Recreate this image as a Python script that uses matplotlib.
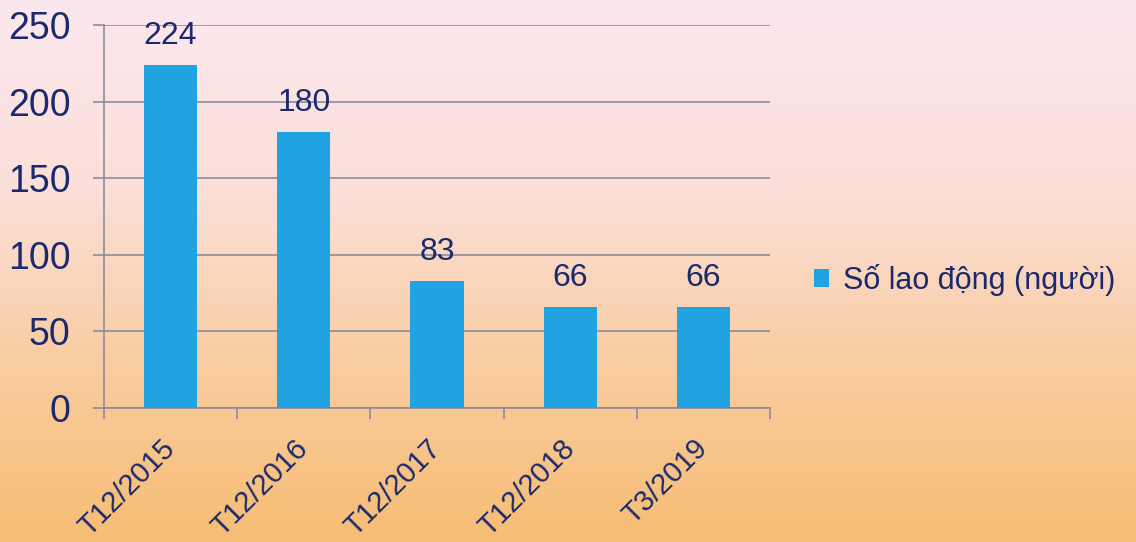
import numpy as np
import matplotlib
matplotlib.use("Agg")
from matplotlib import pyplot as plt
from matplotlib.colors import LinearSegmentedColormap
from matplotlib.patches import Patch

categories = ["T12/2015", "T12/2016", "T12/2017", "T12/2018", "T3/2019"]
values = [224, 180, 83, 66, 66]
series_name = "Số lao động (người)"
y_ticks = [0, 50, 100, 150, 200, 250]

TEXT_COLOR = "#1a2a6c"
BAR_COLOR = "#22a3e1"
GRID_COLOR = "#8c8c9c"

plt.rcParams["font.family"] = ["Liberation Sans", "DejaVu Sans"]

fig = plt.figure(figsize=(11.36, 5.42), dpi=100)

# background gradient (pink at top -> orange at bottom)
bg = fig.add_axes([0, 0, 1, 1], zorder=-10)
grad_cmap = LinearSegmentedColormap.from_list(
    "bg", [(0.0, "#fde7ef"), (0.35, "#fbdfd8"), (0.7, "#f9cb9c"), (1.0, "#f6bd74")])
bg.imshow(np.linspace(0, 1, 256).reshape(-1, 1), aspect="auto", cmap=grad_cmap,
          extent=[0, 1, 0, 1], origin="upper")
bg.axis("off")

ax = fig.add_axes([104 / 1136, 1 - 408 / 542, 666 / 1136, 383 / 542])
ax.patch.set_alpha(0)

x = np.arange(len(categories))
bars = ax.bar(x, values, width=0.4, color=BAR_COLOR, zorder=3)

for xi, v in zip(x, values):
    ax.annotate(str(v), (xi, v), xytext=(0, 10), textcoords="offset points",
                ha="center", va="bottom", fontsize=23, color=TEXT_COLOR)

ax.set_xlim(-0.5, len(categories) - 0.5)
ax.set_ylim(0, 250)
ax.set_yticks(y_ticks)
ax.set_yticklabels([str(t) for t in y_ticks], fontsize=27, color=TEXT_COLOR)
ax.yaxis.grid(True, color=GRID_COLOR, linewidth=1.2, zorder=0)
ax.tick_params(axis="y", length=8, width=1.2, color=GRID_COLOR, pad=16)

ax.set_xticks(x)
ax.set_xticklabels(categories, rotation=45, ha="right", va="center",
                   rotation_mode="anchor", fontsize=21, color=TEXT_COLOR)
ax.tick_params(axis="x", which="major", length=0, pad=26)
ax.set_xticks(np.arange(-0.5, len(categories), 1), minor=True)
ax.tick_params(axis="x", which="minor", length=8, width=1.2, color=GRID_COLOR)

for side in ["top", "right"]:
    ax.spines[side].set_visible(False)
for side in ["left", "bottom"]:
    ax.spines[side].set_color(GRID_COLOR)
    ax.spines[side].set_linewidth(1.2)

handle = Patch(facecolor=BAR_COLOR, edgecolor="none")
fig.legend([handle], [series_name], loc="center left",
           bbox_to_anchor=(786 / 1136, 1 - 280 / 542), frameon=False,
           fontsize=22, labelcolor=TEXT_COLOR, handlelength=0.5, handleheight=0.5,
           handletextpad=0.45)

fig.savefig("out.png", dpi=100)
